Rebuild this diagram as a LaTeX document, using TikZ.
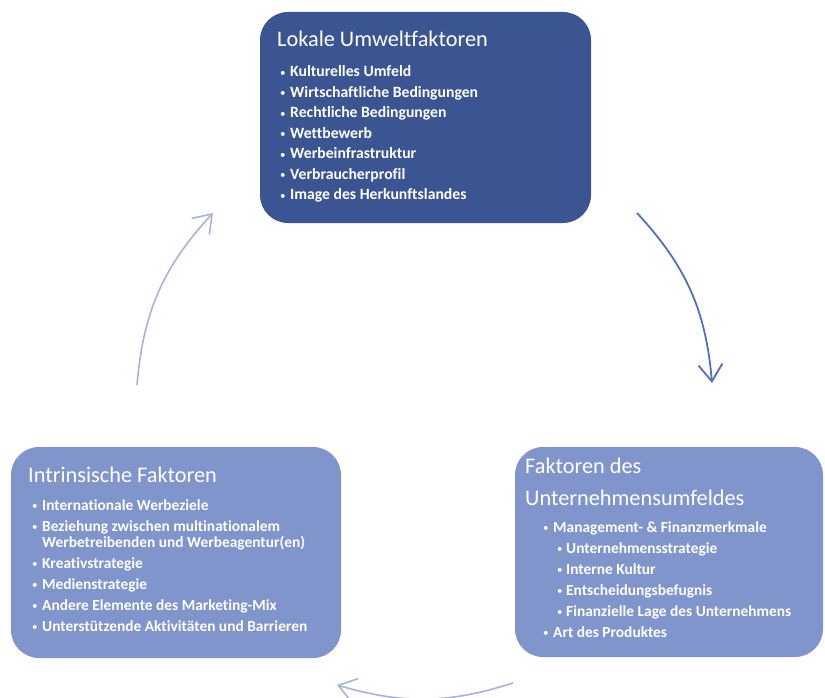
\documentclass[tikz,border=0pt]{standalone}
\usepackage{fontspec}
\setmainfont[Ligatures=CommonOff]{Carlito}
\usetikzlibrary{arrows.meta}
\definecolor{darkbox}{HTML}{3B5592}
\definecolor{lightbox}{HTML}{8095CB}
\definecolor{arrowdark}{HTML}{5470BD}
\definecolor{arrowlight}{HTML}{A7B3DB}
\newcommand{\bdot}{\raisebox{0.6pt}{\fontsize{11}{11}\selectfont\mdseries•}}
\newcommand{\bitem}[1]{\makebox[10pt][l]{\bdot}#1}
\newcommand{\bcont}[1]{\hspace*{10pt}#1}
\newcommand{\bsub}[1]{\hspace*{14pt}\makebox[9pt][l]{\bdot}#1}
\tikzset{
  boxshape/.style={rectangle, rounded corners=28pt, draw=none, inner sep=0pt},
  titletext/.style={text=white, inner sep=0pt, anchor=base west, font=\fontsize{22.3}{26}\selectfont},
  listtext/.style={text=white, inner sep=0pt, anchor=base west, font=\fontsize{15.4}{17}\selectfont\bfseries},
  cyclearrow/.style={line width=1.8pt, -{Straight Barb[length=17pt,width=24pt]}}
}
\begin{document}
\begin{tikzpicture}[x=1pt,y=-1pt]
\useasboundingbox (0,0) rectangle (825,698);
\fill[white] (0,0) rectangle (825,698);

% boxes
\node[boxshape, fill=darkbox, minimum width=331pt, minimum height=211pt] (top) at (425.5,117.5) {};
\node[boxshape, fill=lightbox, minimum width=330pt, minimum height=211pt] (left) at (176,552.5) {};
\node[boxshape, fill=lightbox, minimum width=308pt, minimum height=210pt] (right) at (669,552) {};

% top box text
\node[listtext, font=\fontsize{15.7}{17}\selectfont\bfseries] (toplist) at (280,77) {\begin{tabular}[t]{@{}l@{}}
\bitem{Kulturelles Umfeld}\\[3.5pt]
\bitem{Wirtschaftliche Bedingungen}\\[3.5pt]
\bitem{Rechtliche Bedingungen}\\[3.5pt]
\bitem{Wettbewerb}\\[3.5pt]
\bitem{Werbeinfrastruktur}\\[3.5pt]
\bitem{Verbraucherprofil}\\[3.5pt]
\bitem{Image des Herkunftslandes}
\end{tabular}};
\node[titletext] (toptitle) at (277,47) {Lokale Umweltfaktoren};

% left box text
\node[titletext] (lefttitle) at (28,482) {Intrinsische Faktoren};
\node[listtext, font=\fontsize{15.4}{16.5}\selectfont\bfseries] (leftlist) at (32,510) {\begin{tabular}[t]{@{}l@{}}
\bitem{Internationale Werbeziele}\\[4.5pt]
\bitem{Beziehung zwischen multinationalem}\\
\bcont{Werbetreibenden und Werbeagentur(en)}\\[4.5pt]
\bitem{Kreativstrategie}\\[4.5pt]
\bitem{Medienstrategie}\\[4.5pt]
\bitem{Andere Elemente des Marketing-Mix}\\[4.5pt]
\bitem{Unterstützende Aktivitäten und Barrieren}
\end{tabular}};

% right box text
\node[titletext] (righttitle) at (525,473) {\begin{tabular}[t]{@{}l@{}}
Faktoren des\\[6pt]
Unternehmensumfeldes
\end{tabular}};
\node[listtext] (rightlist) at (543,532) {\begin{tabular}[t]{@{}l@{}}
\bitem{Management- \& Finanzmerkmale}\\[4pt]
\bsub{Unternehmensstrategie}\\[4pt]
\bsub{Interne Kultur}\\[4pt]
\bsub{Entscheidungsbefugnis}\\[4pt]
\bsub{Finanzielle Lage des Unternehmens}\\[4pt]
\bitem{Art des Produktes}
\end{tabular}};

% cycle arrows
\coordinate (rs) at (637,213);
\coordinate (re) at (712,383);
\coordinate (bs) at (513,683);
\coordinate (be) at (337,685);
\coordinate (ls) at (137,385);
\coordinate (le) at (213,213);
\draw[cyclearrow, arrowdark] (rs) to[bend left=19] (re);
\draw[cyclearrow, arrowlight, line width=1.6pt] (bs) to[bend left=17] (be);
\draw[cyclearrow, arrowlight, line width=1.6pt] (ls) to[bend left=19] (le);
\end{tikzpicture}
\end{document}
